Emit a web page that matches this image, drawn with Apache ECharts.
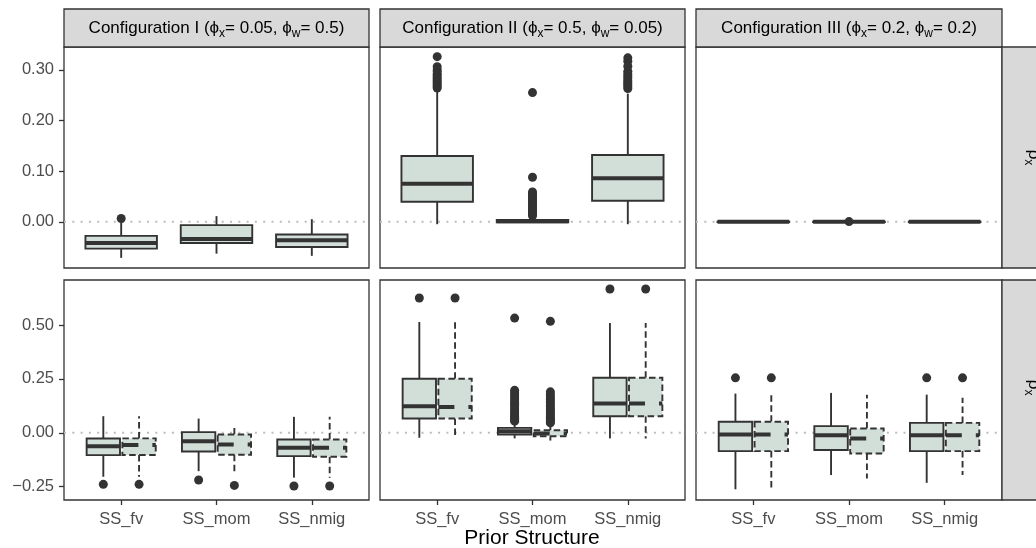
<!DOCTYPE html>
<html>
<head>
<meta charset="utf-8">
<script src="https://cdn.jsdelivr.net/npm/echarts@6/dist/echarts.min.js"></script>
<style>
html,body{margin:0;padding:0;background:#fff;}
#chart{width:1036px;height:548px;}
</style>
</head>
<body>
<div id="chart"></div>
<script>
// ---------- data ----------
const categories = ['SS_fv', 'SS_mom', 'SS_nmig'];
const configTitles = [
  ['Configuration I (', '0.05', '0.5)'],
  ['Configuration II (', '0.5', '0.05)'],
  ['Configuration III (', '0.2', '0.2)']
];
const yTicksTop = [0, 0.1, 0.2, 0.3];
const yTicksBottom = [-0.25, 0, 0.25, 0.5];

// box stats per category: [lower whisker, Q1, median, Q3, upper whisker]
// Row 1 (rho_x)
const rhoCfg1 = [[-0.071, -0.0527, -0.0416, -0.0277, 0.0], [-0.0627, -0.0416, -0.0337, -0.0065, 0.0113], [-0.067, -0.0495, -0.0363, -0.025, 0.0053]];
const rhoCfg1Out = [[0.0067], [], []];
const rhoCfg2 = [[-0.0046, 0.0396, 0.0752, 0.130, 0.261], [-0.002, -0.001, 0.001, 0.004, 0.009], [-0.0046, 0.0416, 0.086, 0.132, 0.253]];
const rhoCfg2Out = [
  [0.326, 0.306, 0.300, 0.296, 0.291, 0.287, 0.283, 0.279, 0.275, 0.271, 0.267, 0.264],
  [0.255, 0.088, 0.059, 0.055, 0.052, 0.048, 0.045, 0.041, 0.038, 0.034, 0.031, 0.028, 0.024, 0.021, 0.018, 0.015, 0.012],
  [0.3236, 0.317, 0.307, 0.297, 0.292, 0.288, 0.284, 0.279, 0.275, 0.271, 0.267, 0.263]
];
const rhoCfg3 = [[-0.0008, -0.0004, 0, 0.0004, 0.0008], [-0.0008, -0.0004, 0, 0.0004, 0.0008], [-0.0008, -0.0004, 0, 0.0004, 0.0008]];
const rhoCfg3Out = [[], [0.0005], []];

// Row 2 (rho*_x): solid and dashed boxes
const rhoStarCfg1Solid = [[-0.204, -0.1034, -0.062, -0.0264, 0.077], [-0.178, -0.0866, -0.039, 0.003, 0.066], [-0.208, -0.108, -0.069, -0.031, 0.074]];
const rhoStarCfg1Dashed = [[-0.204, -0.103, -0.057, -0.026, 0.077], [-0.193, -0.102, -0.054, -0.008, 0.031], [-0.208, -0.111, -0.069, -0.031, 0.074]];
const rhoStarCfg1SolidOut = [[-0.239], [-0.219], [-0.247]];
const rhoStarCfg1DashedOut = [[-0.239], [-0.244], [-0.247]];

const rhoStarCfg2Solid = [[-0.023, 0.066, 0.123, 0.251, 0.514], [-0.026, -0.008, 0.0074, 0.023, 0.046], [-0.026, 0.077, 0.136, 0.255, 0.509]];
const rhoStarCfg2Dashed = [[-0.023, 0.066, 0.12, 0.251, 0.514], [-0.036, -0.016, -0.003, 0.012, 0.031], [-0.026, 0.077, 0.136, 0.255, 0.509]];
const rhoStarCfg2SolidOut = [
  [0.625],
  [0.532, 0.197, 0.185, 0.175, 0.163, 0.152, 0.141, 0.131, 0.121, 0.111, 0.101, 0.092, 0.083, 0.075, 0.067, 0.060, 0.054],
  [0.667]
];
const rhoStarCfg2DashedOut = [
  [0.625],
  [0.517, 0.19, 0.178, 0.166, 0.155, 0.144, 0.133, 0.122, 0.112, 0.102, 0.093, 0.084, 0.075, 0.067, 0.059, 0.052, 0.046],
  [0.667]
];

const rhoStarCfg3Solid = [[-0.262, -0.085, -0.008, 0.051, 0.182], [-0.196, -0.08, -0.011, 0.031, 0.185], [-0.232, -0.085, -0.011, 0.046, 0.177]];
const rhoStarCfg3Dashed = [[-0.262, -0.085, -0.008, 0.051, 0.182], [-0.212, -0.096, -0.026, 0.020, 0.177], [-0.196, -0.085, -0.011, 0.046, 0.162]];
const rhoStarCfg3SolidOut = [[0.255], [], [0.255]];
const rhoStarCfg3DashedOut = [[0.255], [], [0.255]];

const referenceLine = [0];

// ---------- styling / layout ----------
const FONT = 'Liberation Sans, Arial, sans-serif';
const DARK = '#333333';
const FILL = '#d2ded8';
const STRIP = '#d9d9d9';
const colLeft = [64, 380, 696];
const colWidth = [305, 305, 306];
const rowTop = [47, 280];
const rowHeight = [221, 220];
const yRange = [[-0.091, 0.345], [-0.3117, 0.7087]];

function fmtTick(v) {
  const s = Math.abs(v).toFixed(2);
  return (v < 0 ? '\u2212' : '') + s;
}

const grids = [], xAxes = [], yAxes = [], series = [];
for (let r = 0; r < 2; r++) {
  for (let c = 0; c < 3; c++) {
    const gi = r * 3 + c;
    grids.push({left: colLeft[c], top: rowTop[r], width: colWidth[c], height: rowHeight[r],
      show: true, borderColor: DARK, borderWidth: 1.3, backgroundColor: 'transparent'});
    const isBottom = r === 1;
    xAxes.push({
      type: 'value', gridIndex: gi, min: -0.6, max: 2.6, position: 'bottom',
      splitLine: {show: false}, axisLine: {show: false, onZero: false},
      axisTick: {show: isBottom, customValues: [0, 1, 2], length: 5, lineStyle: {color: DARK, width: 1.3}},
      axisLabel: {show: isBottom, customValues: [0, 1, 2], margin: 11,
        formatter: v => categories[Math.round(v)], fontFamily: FONT, fontSize: 16.5, color: '#4d4d4d'}
    });
    const ticks = r === 0 ? yTicksTop : yTicksBottom;
    yAxes.push({
      type: 'value', gridIndex: gi, min: yRange[r][0], max: yRange[r][1], position: 'left',
      splitLine: {show: false}, axisLine: {show: false, onZero: false},
      axisTick: {show: c === 0, customValues: ticks, length: 5, lineStyle: {color: DARK, width: 1.3}},
      axisLabel: {show: c === 0, customValues: ticks, margin: 10, formatter: fmtTick,
        fontFamily: FONT, fontSize: 16.5, color: '#4d4d4d'}
    });
  }
}

function refLineSeries(gi) {
  return {
    type: 'custom', xAxisIndex: gi, yAxisIndex: gi, z: 1, silent: true,
    data: referenceLine.map(v => [0, v]), encode: {x: 0, y: 1},
    renderItem: function (params, api) {
      const cs = params.coordSys;
      const p = api.coord([0, api.value(1)]);
      return {type: 'line', shape: {x1: cs.x, y1: p[1], x2: cs.x + cs.width, y2: p[1]},
        style: {stroke: '#bdbdbd', lineWidth: 2, lineDash: [2, 6.3]}};
    }
  };
}

function boxSeries(gi, stats, offset, width, dashed) {
  return {
    type: 'custom', xAxisIndex: gi, yAxisIndex: gi, z: 3, silent: true,
    data: stats.map((s, i) => [i].concat(s)),
    encode: {x: 0, y: [1, 2, 3, 4, 5]},
    renderItem: function (params, api) {
      const cx = api.value(0) + offset;
      const pMin = api.coord([cx, api.value(1)]);
      const pQ1 = api.coord([cx - width / 2, api.value(2)]);
      const pMed = api.coord([cx - width / 2, api.value(3)]);
      const pQ3 = api.coord([cx + width / 2, api.value(4)]);
      const pMax = api.coord([cx, api.value(5)]);
      const dash = dashed ? [6.5, 3.5] : null;
      const lw = 1.9;
      return {
        type: 'group', children: [
          {type: 'line', shape: {x1: pMin[0], y1: pQ1[1], x2: pMin[0], y2: pMin[1]},
            style: {stroke: DARK, lineWidth: lw, lineDash: dash}},
          {type: 'line', shape: {x1: pMax[0], y1: pQ3[1], x2: pMax[0], y2: pMax[1]},
            style: {stroke: DARK, lineWidth: lw, lineDash: dash}},
          {type: 'rect', shape: {x: pQ1[0], y: pQ3[1], width: pQ3[0] - pQ1[0], height: pQ1[1] - pQ3[1]},
            style: {fill: FILL, stroke: DARK, lineWidth: lw, lineDash: dash}},
          {type: 'line', shape: {x1: pQ1[0], y1: pMed[1], x2: pQ3[0], y2: pMed[1]},
            style: {stroke: DARK, lineWidth: 4, lineDash: dashed ? [16, 14] : null}}
        ]
      };
    }
  };
}

function outlierSeries(gi, outs, offset) {
  const pts = [];
  outs.forEach((arr, i) => arr.forEach(v => pts.push([i + offset, v])));
  return {type: 'scatter', xAxisIndex: gi, yAxisIndex: gi, z: 4, silent: true,
    symbol: 'circle', symbolSize: 9, itemStyle: {color: DARK, opacity: 1}, data: pts};
}

// Row 1
const row1 = [[rhoCfg1, rhoCfg1Out], [rhoCfg2, rhoCfg2Out], [rhoCfg3, rhoCfg3Out]];
row1.forEach((d, c) => {
  series.push(refLineSeries(c));
  series.push(boxSeries(c, d[0], 0, 0.75, false));
  series.push(outlierSeries(c, d[1], 0));
});
// Row 2
const row2 = [
  [rhoStarCfg1Solid, rhoStarCfg1Dashed, rhoStarCfg1SolidOut, rhoStarCfg1DashedOut],
  [rhoStarCfg2Solid, rhoStarCfg2Dashed, rhoStarCfg2SolidOut, rhoStarCfg2DashedOut],
  [rhoStarCfg3Solid, rhoStarCfg3Dashed, rhoStarCfg3SolidOut, rhoStarCfg3DashedOut]
];
const dodge = 0.1875, halfW = 0.35;
row2.forEach((d, c) => {
  const gi = 3 + c;
  series.push(refLineSeries(gi));
  series.push(boxSeries(gi, d[0], -dodge, halfW, false));
  series.push(boxSeries(gi, d[1], dodge, halfW, true));
  series.push(outlierSeries(gi, d[2], -dodge));
  series.push(outlierSeries(gi, d[3], dodge));
});

// strips & titles
const rich = {
  n: {fontFamily: FONT, fontSize: 17, color: '#1a1a1a', padding: [0, 0, 3, 0], verticalAlign: 'bottom'},
  s: {fontFamily: FONT, fontSize: 12, color: '#1a1a1a', verticalAlign: 'bottom'}
};
const graphics = [];
configTitles.forEach((t, c) => {
  graphics.push({type: 'rect', z: 10, shape: {x: colLeft[c], y: 9, width: colWidth[c], height: 38},
    style: {fill: STRIP, stroke: DARK, lineWidth: 1.3}});
  graphics.push({type: 'text', z: 11, x: colLeft[c] + colWidth[c] / 2, y: 29.5,
    style: {text: '{n|' + t[0] + '\u03d5}{s|x}{n|= ' + t[1] + ', \u03d5}{s|w}{n|= ' + t[2] + '}',
      rich: rich, align: 'center', verticalAlign: 'middle'}});
});
const rightLabels = ['{n|\u03c1}{s|x}', '{n|\u03c1}{s|x}{t|*}'];
const richR = {
  n: {fontFamily: FONT, fontSize: 17, color: '#1a1a1a', padding: [0, 0, 3, 0], verticalAlign: 'bottom'},
  s: {fontFamily: FONT, fontSize: 12, color: '#1a1a1a', verticalAlign: 'bottom'},
  t: {fontFamily: FONT, fontSize: 12, color: '#1a1a1a', verticalAlign: 'top'}
};
for (let r = 0; r < 2; r++) {
  graphics.push({type: 'rect', z: 10, shape: {x: 1002, y: rowTop[r], width: 40, height: rowHeight[r]},
    style: {fill: STRIP, stroke: DARK, lineWidth: 1.3}});
  graphics.push({type: 'text', z: 11, x: 1032, y: rowTop[r] + rowHeight[r] / 2, rotation: -Math.PI / 2,
    style: {text: rightLabels[r], rich: richR, align: 'center', verticalAlign: 'middle'}});
}
graphics.push({type: 'text', z: 11, x: 532, y: 538,
  style: {text: 'Prior Structure', fontFamily: FONT, fontSize: 21, fill: '#000', align: 'center', verticalAlign: 'middle'}});

const chart = echarts.init(document.getElementById('chart'), null, {renderer: 'canvas'});
chart.setOption({
  animation: false,
  backgroundColor: '#ffffff',
  grid: grids, xAxis: xAxes, yAxis: yAxes, series: series, graphic: graphics
});
</script>
</body>
</html>
